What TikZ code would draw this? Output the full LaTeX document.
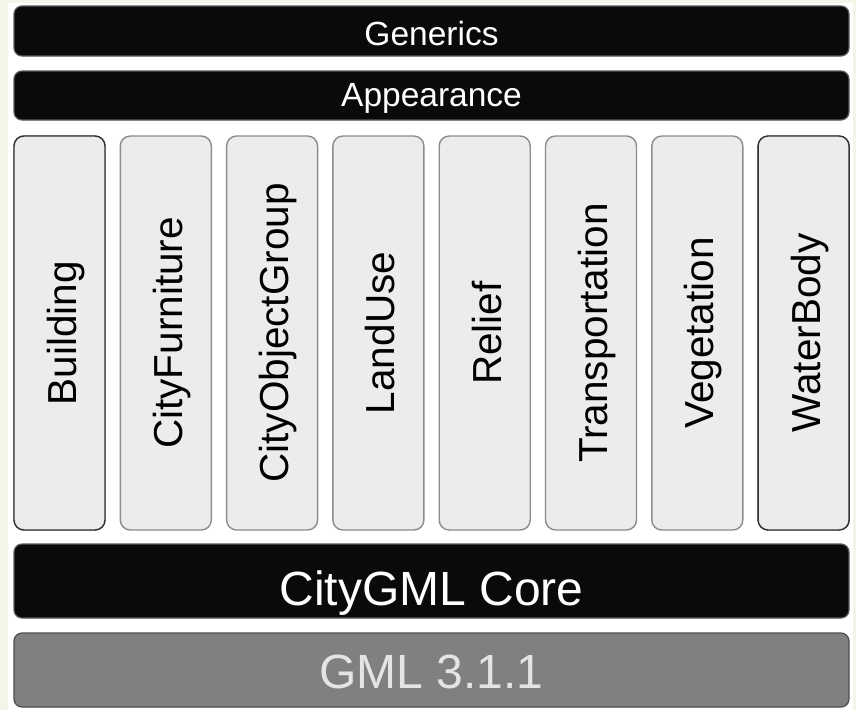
\documentclass[tikz,border=0pt]{standalone}
\usepackage{fontspec}
\setmainfont{Liberation Sans}
\definecolor{pale}{HTML}{F3F5E9}
\definecolor{barblack}{HTML}{0A0A0A}
\definecolor{colfill}{HTML}{ECECEC}
\definecolor{gmlgrey}{HTML}{808080}
\definecolor{gmltext}{HTML}{E4E4E4}
\tikzset{
  bar/.style={rectangle, rounded corners=8pt, draw=black!65, line width=1.2pt,
    fill=barblack, text=white, minimum width=835pt, inner sep=0pt, text depth=0pt},
  colbox/.style={rectangle, rounded corners=10pt, draw=black!45, line width=1.4pt,
    fill=colfill, text=black, rotate=90, minimum width=394pt, minimum height=91pt,
    inner sep=0pt, text height=33pt, text depth=0pt, font=\fontsize{40.5}{44}\selectfont},
}
\begin{document}
\begin{tikzpicture}[x=1pt,y=-1pt]
%
\fill[pale] (0,0) rectangle (856,710);
\fill[white] (8,3) rectangle (853,710);
\useasboundingbox (0,0) rectangle (856,710);
%
\node[bar, minimum height=50pt, text height=28pt, font=\fontsize{33.5}{36}\selectfont] (generics) at (431.5,31) {Generics};
\node[bar, minimum height=49pt, text height=22.5pt, font=\fontsize{33.5}{36}\selectfont] (appearance) at (431.5,95.5) {Appearance};
%
\foreach \name [count=\i from 0] in {Building,CityFurniture,CityObjectGroup,LandUse,Relief,Transportation,Vegetation,WaterBody}
  \node[colbox] (mod\i) at (59.5+106.3*\i,333) {\name};
\node[colbox, draw=black!80] at (mod0) {Building};
\node[colbox, draw=black!80] at (mod7) {WaterBody};
%
\node[bar, minimum height=74pt, text height=48pt, font=\fontsize{48}{52}\selectfont] (core) at (431.5,581) {CityGML Core};
\node[bar, minimum height=74pt, text height=36pt, fill=gmlgrey, draw=black!70, text=gmltext, font=\fontsize{48}{52}\selectfont] (gml) at (431.5,670) {GML 3.1.1};
%
\end{tikzpicture}
\end{document}
